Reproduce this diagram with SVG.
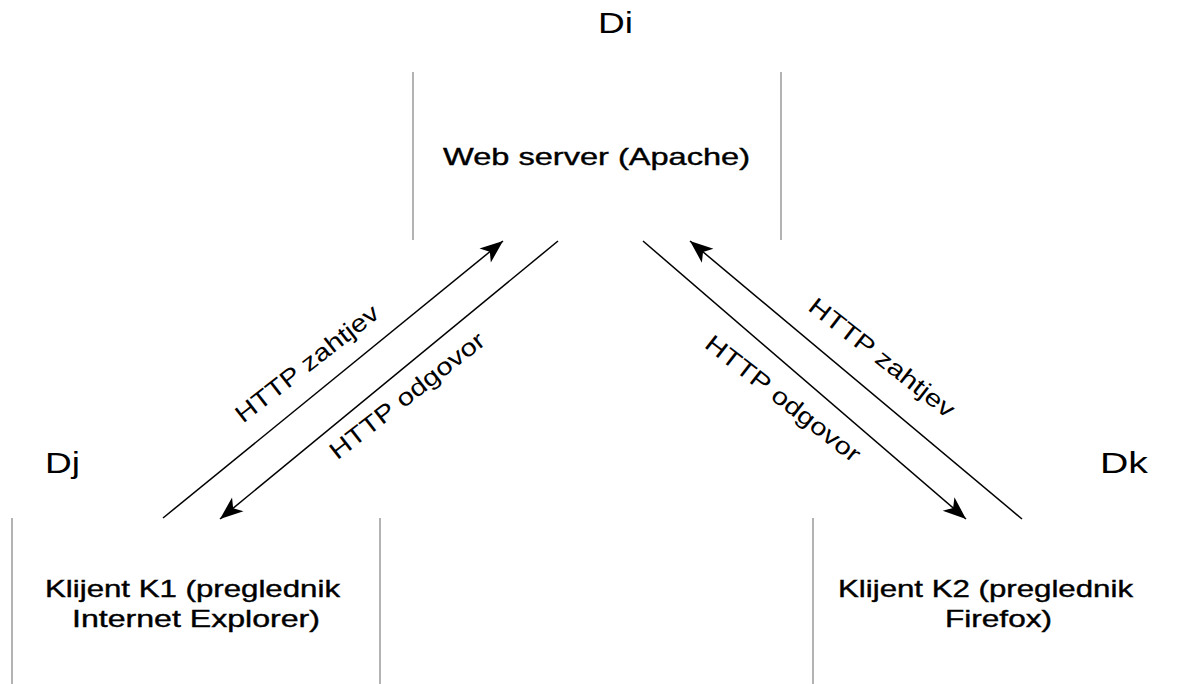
<svg xmlns="http://www.w3.org/2000/svg" width="1178" height="684" viewBox="0 0 1178 684">
<style>
  text { font-family: "Liberation Sans", Arial, sans-serif; fill: #000; }
  .big { font-size: 29px; }
  .node { font-size: 24px; stroke: #000; stroke-width: 0.4; }
  .lbl { font-size: 24px; }
  .side { stroke: #8a8a8a; stroke-width: 1.3; fill: none; }
  .conn { stroke: #000; stroke-width: 1.5; fill: none; marker-end: url(#arrow); }
</style>
<defs>
  <marker id="arrow" markerUnits="userSpaceOnUse" markerWidth="26" markerHeight="22" viewBox="-24 -11 26 22" refX="0" refY="0" orient="auto">
    <path d="M0,0 L-23,-9 L-17,0 L-23,9 Z" fill="#000"/>
  </marker>
</defs>
<rect width="1178" height="684" fill="#fff"/>

<g id="server">
  <text class="big" x="598" y="33" textLength="35" lengthAdjust="spacingAndGlyphs">Di</text>
  <line class="side" x1="413" y1="72" x2="413" y2="240"/>
  <line class="side" x1="781" y1="72" x2="781" y2="240"/>
  <text class="node" x="443" y="165" textLength="307" lengthAdjust="spacingAndGlyphs">Web server (Apache)</text>
</g>

<g id="client-k1">
  <text class="big" x="45" y="473" textLength="35" lengthAdjust="spacingAndGlyphs">Dj</text>
  <line class="side" x1="12" y1="518" x2="12" y2="684"/>
  <line class="side" x1="380" y1="518" x2="380" y2="684"/>
  <text class="node" x="45" y="597" textLength="295" lengthAdjust="spacingAndGlyphs">Klijent K1 (preglednik</text>
  <text class="node" x="72" y="627" textLength="248" lengthAdjust="spacingAndGlyphs">Internet Explorer)</text>
</g>

<g id="client-k2">
  <text class="big" x="1100" y="473" textLength="48" lengthAdjust="spacingAndGlyphs">Dk</text>
  <line class="side" x1="813" y1="518" x2="813" y2="684"/>
  <text class="node" x="838" y="597" textLength="295" lengthAdjust="spacingAndGlyphs">Klijent K2 (preglednik</text>
  <text class="node" x="945" y="627" textLength="107" lengthAdjust="spacingAndGlyphs">Firefox)</text>
</g>

<g id="connectors">
  <line class="conn" x1="163" y1="518" x2="503" y2="241"/>
  <line class="conn" x1="558" y1="241" x2="220" y2="519"/>
  <line class="conn" x1="643" y1="241" x2="966" y2="519"/>
  <line class="conn" x1="1022" y1="519" x2="690" y2="241"/>
  <text class="lbl" text-anchor="middle" transform="translate(312,370) rotate(-38)" textLength="175" lengthAdjust="spacingAndGlyphs">HTTP zahtjev</text>
  <text class="lbl" text-anchor="middle" transform="translate(412,402) rotate(-38)" textLength="190" lengthAdjust="spacingAndGlyphs">HTTP odgovor</text>
  <text class="lbl" text-anchor="middle" transform="translate(778,405) rotate(38)" textLength="190" lengthAdjust="spacingAndGlyphs">HTTP odgovor</text>
  <text class="lbl" text-anchor="middle" transform="translate(877,364) rotate(38)" textLength="178" lengthAdjust="spacingAndGlyphs">HTTP zahtjev</text>
</g>
</svg>
